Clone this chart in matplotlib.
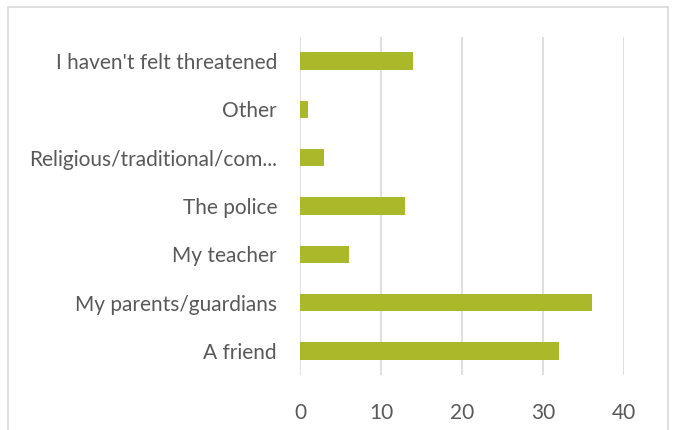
import matplotlib.pyplot as plt
from matplotlib.patches import Rectangle

categories = ["A friend", "My parents/guardians", "My teacher", "The police",
              "Religious/traditional/com...", "Other", "I haven't felt threatened"]
values = [32, 36, 6, 13, 3, 1, 14]
xticks = [0, 10, 20, 30, 40]

plt.rcParams['font.family'] = ['Lato', 'DejaVu Sans']

fig = plt.figure(figsize=(6.73, 4.30), dpi=100)
ax = fig.add_axes([300/673, 1 - 375/430, 324/673, 338/430])

# outer chart border (bottom edge is cropped in the reference)
fig.patches.append(Rectangle((8/673, -0.05), 660/673, 1.05 - 7/430,
                             transform=fig.transFigure, fill=False,
                             edgecolor='#D9D9D9', lw=1.2))

ax.barh(range(len(categories)), values, height=0.36, color='#A9B92A', zorder=3)
ax.set_xlim(0, 40)
ax.set_ylim(-0.5, len(categories) - 0.5)
ax.set_xticks(xticks)
ax.set_yticks(range(len(categories)))
ax.set_yticklabels(categories)
ax.grid(axis='x', color='#D9D9D9', lw=1.2, zorder=0)
for s in ax.spines.values():
    s.set_visible(False)
ax.tick_params(axis='both', length=0, labelsize=15, colors='#595959')
ax.tick_params(axis='y', pad=16.5)
ax.tick_params(axis='x', pad=20)

fig.savefig('out.png', dpi=100)
